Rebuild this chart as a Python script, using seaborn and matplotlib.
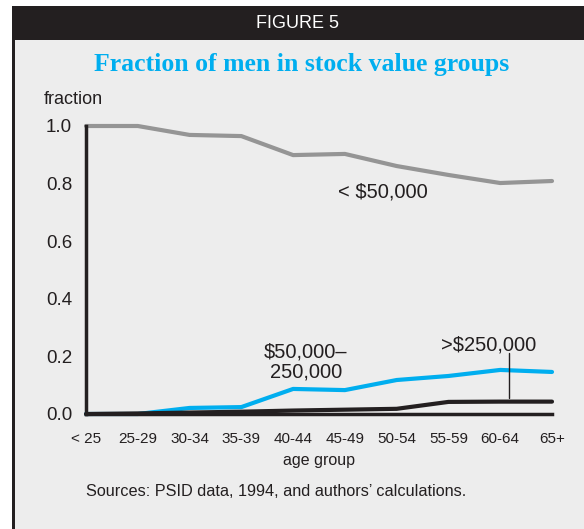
import pandas as pd
import matplotlib
matplotlib.use('Agg')
import matplotlib.pyplot as plt
import seaborn as sns
from matplotlib.patches import Rectangle

age_groups = ['< 25', '25-29', '30-34', '35-39', '40-44', '45-49',
              '50-54', '55-59', '60-64', '65+']
under_50k = [1.0, 1.0, 0.969, 0.965, 0.899, 0.903, 0.861, 0.830, 0.802, 0.809]
mid_50k_250k = [0.0, 0.0, 0.021, 0.024, 0.087, 0.083, 0.118, 0.132, 0.153, 0.146]
over_250k = [0.0, 0.002, 0.005, 0.008, 0.012, 0.015, 0.018, 0.042, 0.043, 0.043]

series_names = ['<$50,000', '$50,000-250,000', '>$250,000']
colors = ['#959595', '#00aeef', '#231f20']

rows = []
for name, vals in zip(series_names, [under_50k, mid_50k_250k, over_250k]):
    for i, (age, v) in enumerate(zip(age_groups, vals)):
        rows.append({'pos': i, 'age': age, 'fraction': v, 'group': name})
df = pd.DataFrame(rows)

sns.set_theme(style='white')
plt.rcParams['font.family'] = ['Liberation Sans', 'DejaVu Sans']

W, H = 584, 529
fig = plt.figure(figsize=(W / 100, H / 100), dpi=100)
fig.patch.set_facecolor('white')

# frame: gray panel, black header, black left border
fig.patches.append(Rectangle((15 / W, 0), 1, 1 - 40 / H, transform=fig.transFigure,
                             facecolor='#ededed', edgecolor='none', zorder=-5))
fig.patches.append(Rectangle((12 / W, 1 - 40 / H), 1, 34 / H, transform=fig.transFigure,
                             facecolor='#231f20', edgecolor='none', zorder=-5))
fig.patches.append(Rectangle((12 / W, 0), 3 / W, 1 - 40 / H, transform=fig.transFigure,
                             facecolor='#231f20', edgecolor='none', zorder=-5))

fig.text(297 / W, 1 - 23 / H, 'FIGURE 5', color='white', fontsize=13,
         ha='center', va='center')
fig.text(302 / W, 1 - 65 / H, 'Fraction of men in stock value groups',
         color='#00aeef', fontsize=18.5, fontweight='bold', ha='center', va='center',
         family=['Liberation Serif', 'DejaVu Serif'])

ax = fig.add_axes([86 / W, 1 - 414 / H, (552 - 86) / W, 288 / H])
ax.set_facecolor('none')
ax.set_zorder(2)

sns.lineplot(data=df, x='pos', y='fraction', hue='group', palette=colors,
             hue_order=series_names, linewidth=3, legend=False, ax=ax,
             sort=False, clip_on=False)

ax.set_xlim(0, 9)
ax.set_ylim(0, 1.0)
ax.set_xticks(range(len(age_groups)))
ax.set_xticklabels(age_groups, fontsize=11, color='#231f20')
ax.set_yticks([0, 0.2, 0.4, 0.6, 0.8, 1.0])
ax.set_yticklabels(['0.0', '0.2', '0.4', '0.6', '0.8', '1.0'], fontsize=13.5,
                   color='#231f20')
ax.tick_params(axis='x', direction='in', length=5, width=2, color='#231f20', pad=13)
ax.tick_params(axis='y', direction='in', length=7, width=2, color='#231f20', pad=10)
for s in ['top', 'right']:
    ax.spines[s].set_visible(False)
for s in ['left', 'bottom']:
    ax.spines[s].set_linewidth(2.5)
    ax.spines[s].set_color('#231f20')
ax.set_xlabel('age group', fontsize=11.5, color='#231f20', labelpad=5)
ax.set_ylabel('')
fig.text(44 / W, 1 - 100 / H, 'fraction', fontsize=13, color='#231f20',
         ha='left', va='center')

ax.text(5.74, 0.771, '< $50,000', fontsize=14.5, color='#231f20', ha='center', va='center')
ax.text(4.25, 0.18, '$50,000\u2013\n250,000', fontsize=14.5, color='#231f20',
        ha='center', va='center', linespacing=1.05)
ax.text(7.78, 0.24, '>$250,000', fontsize=14.5, color='#231f20', ha='center', va='center')
ax.plot([8.17, 8.17], [0.056, 0.212], color='#231f20', linewidth=1)

fig.text(86 / W, 1 - 492 / H, 'Sources: PSID data, 1994, and authors\u2019 calculations.',
         fontsize=11.7, color='#231f20', ha='left', va='center')

fig.savefig('out.png', dpi=100)
